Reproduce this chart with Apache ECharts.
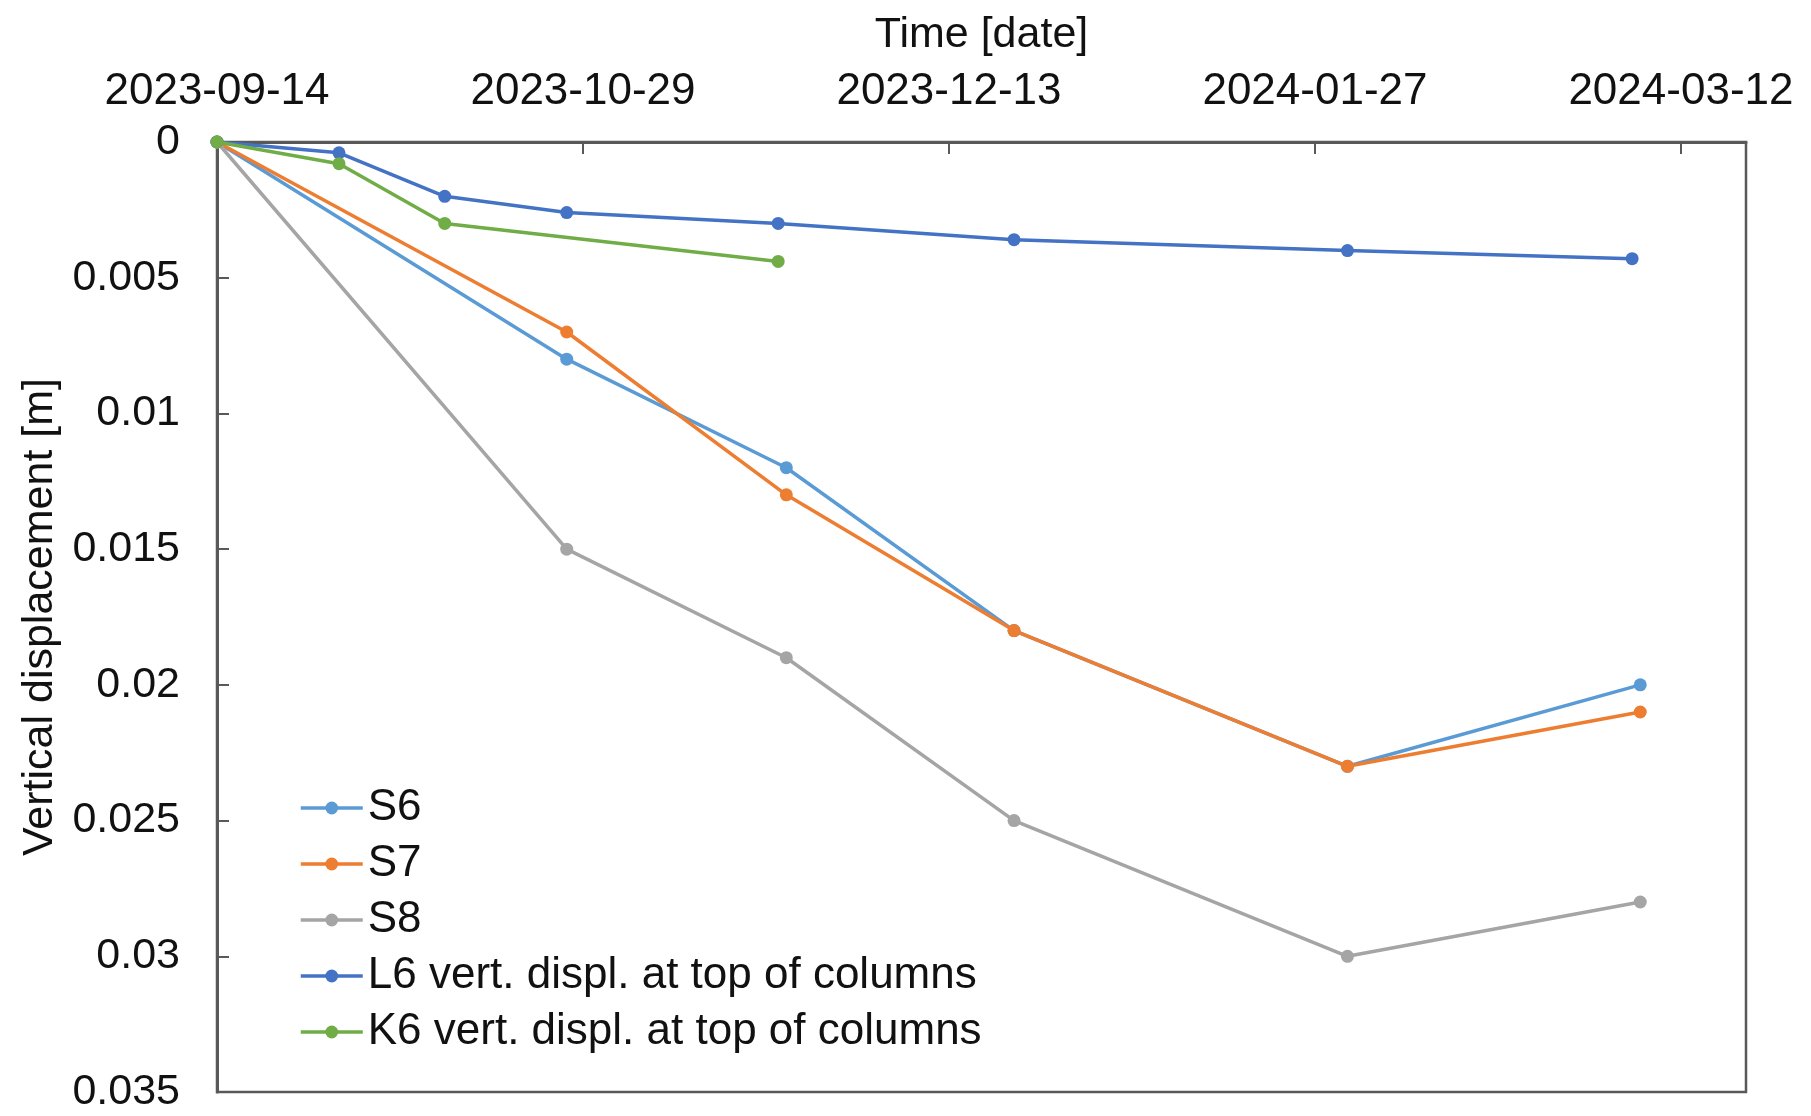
<!DOCTYPE html>
<html>
<head>
<meta charset="utf-8">
<title>Vertical displacement</title>
<script src="https://cdn.jsdelivr.net/npm/echarts@6/dist/echarts.min.js"></script>
<style>
  html, body { margin: 0; padding: 0; background: #ffffff; }
  #chart { width: 1811px; height: 1116px; }
</style>
</head>
<body>
<div id="chart"></div>
<script>
// Survey dates and measured settlements (m, positive = downward)
const startDate = '2023-09-14';
const axisEndDate = '2024-03-20';

const sDates = ['2023-09-14', '2023-10-27', '2023-11-23', '2023-12-21', '2024-01-31', '2024-03-07'];
const s6Values = [0, 0.008, 0.012, 0.018, 0.023, 0.020];
const s7Values = [0, 0.007, 0.013, 0.018, 0.023, 0.021];
const s8Values = [0, 0.015, 0.019, 0.025, 0.030, 0.028];

const l6Dates = ['2023-09-14', '2023-09-29', '2023-10-12', '2023-10-27', '2023-11-22', '2023-12-21', '2024-01-31', '2024-03-06'];
const l6Values = [0, 0.0004, 0.002, 0.0026, 0.003, 0.0036, 0.004, 0.0043];

const k6Dates = ['2023-09-14', '2023-09-29', '2023-10-12', '2023-11-22'];
const k6Values = [0, 0.0008, 0.003, 0.0044];

const seriesNames = ['S6', 'S7', 'S8', 'L6 vert. displ. at top of columns', 'K6 vert. displ. at top of columns'];
const seriesColors = ['#5B9BD5', '#ED7D31', '#A5A5A5', '#4472C4', '#70AD47'];

const DAY = 86400000;
const t0 = Date.parse(startDate + 'T00:00:00Z');
const dayOffset = d => Math.round((Date.parse(d + 'T00:00:00Z') - t0) / DAY);
const dayLabel = v => new Date(t0 + v * DAY).toISOString().slice(0, 10);
const pairs = (dates, values) => dates.map((d, i) => [dayOffset(d), values[i]]);

const FONT = "'Liberation Sans', Arial, sans-serif";
const AXIS_GREY = '#595959';

const chart = echarts.init(document.getElementById('chart'), null, { renderer: 'canvas' });

const seriesData = [
  pairs(sDates, s6Values),
  pairs(sDates, s7Values),
  pairs(sDates, s8Values),
  pairs(l6Dates, l6Values),
  pairs(k6Dates, k6Values)
];

chart.setOption({
  animation: false,
  backgroundColor: '#ffffff',
  textStyle: { fontFamily: FONT },
  grid: {
    left: 217, top: 142, right: 65, bottom: 24,
    show: true, borderColor: AXIS_GREY, borderWidth: 2.5,
    containLabel: false
  },
  legend: {
    orient: 'vertical',
    left: 294, top: 781,
    itemWidth: 62, itemHeight: 16, itemGap: 12,
    data: seriesNames,
    lineStyle: { width: 3.5 },
    textStyle: { fontSize: 44, color: '#111', fontFamily: FONT, lineHeight: 44 }
  },
  xAxis: {
    type: 'value',
    position: 'top',
    min: 0,
    max: dayOffset(axisEndDate),
    interval: 45,
    name: 'Time [date]',
    nameLocation: 'middle',
    nameGap: 107,
    nameTextStyle: { fontSize: 43, color: '#111', fontFamily: FONT, verticalAlign: 'middle' },
    axisLine: { show: true, lineStyle: { color: AXIS_GREY, width: 3 } },
    axisTick: { show: true, inside: true, length: 12, lineStyle: { color: AXIS_GREY, width: 2 } },
    axisLabel: {
      fontSize: 44, color: '#111', fontFamily: FONT, margin: 28,
      showMaxLabel: false,
      formatter: v => dayLabel(v)
    },
    splitLine: { show: false }
  },
  yAxis: {
    type: 'value',
    inverse: true,
    min: 0,
    max: 0.035,
    interval: 0.005,
    name: 'Vertical displacement [m]',
    nameLocation: 'middle',
    nameGap: 177,
    nameTextStyle: { fontSize: 43, color: '#111', fontFamily: FONT, verticalAlign: 'middle' },
    axisLine: { show: true, lineStyle: { color: AXIS_GREY, width: 3 } },
    axisTick: { show: true, inside: true, length: 12, lineStyle: { color: AXIS_GREY, width: 2 } },
    axisLabel: { fontSize: 43, color: '#111', fontFamily: FONT, margin: 37 },
    splitLine: { show: false }
  },
  series: seriesNames.map((name, i) => ({
    name: name,
    type: 'line',
    data: seriesData[i],
    symbol: 'circle',
    symbolSize: 13,
    showSymbol: true,
    color: seriesColors[i],
    lineStyle: { width: 3.5, color: seriesColors[i] },
    itemStyle: { color: seriesColors[i] },
    z: 2 + i
  }))
});
</script>
</body>
</html>
